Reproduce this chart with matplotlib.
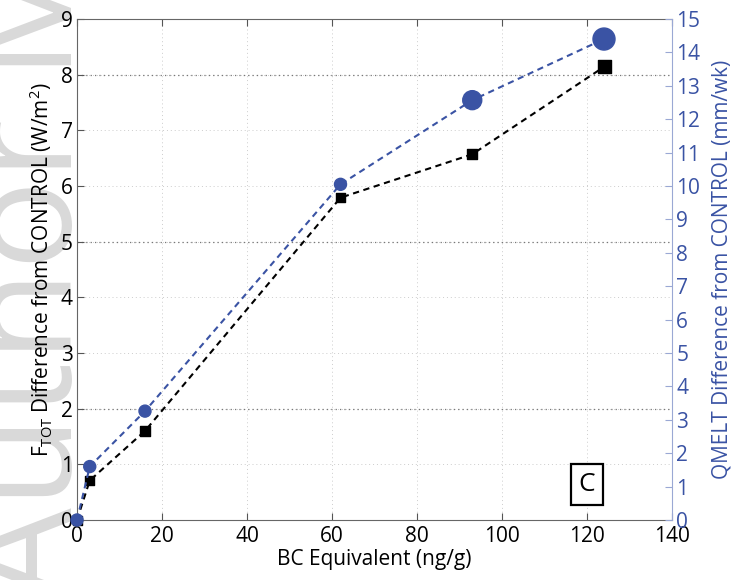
import matplotlib
matplotlib.use("Agg")
import matplotlib.pyplot as plt

# ---- data ----
bc_equiv = [0, 3, 16, 62, 93, 124]                      # ng/g
ftot_diff = [0.0, 0.71, 1.60, 5.79, 6.57, 8.14]         # W/m2 (left axis)
qmelt_diff = [0.0, 1.60, 3.26, 10.05, 12.57, 14.40]     # mm/wk (right axis)

x_ticks = [0, 20, 40, 60, 80, 100, 120, 140]
left_ticks = list(range(0, 10))
right_ticks = list(range(0, 16))

# ---- styles ----
blue = "#3A53A4"
font = "Open Sans"
plt.rcParams["font.family"] = [font, "DejaVu Sans"]
plt.rcParams["mathtext.fontset"] = "custom"
plt.rcParams["mathtext.rm"] = font
plt.rcParams["mathtext.it"] = font
plt.rcParams["mathtext.bf"] = font

sq_sizes = [9, 9, 10, 9, 10, 13]      # px side
circ_sizes = [12, 12, 12, 12, 19, 22]  # px diameter

fig = plt.figure(figsize=(7.49, 5.8), dpi=100)

# watermark (behind everything)
fig.text(72/749, -22/580, "Author Manuscript", rotation=90, fontsize=108,
         color="#d9d9d9", ha="left", va="baseline", rotation_mode="anchor",
         zorder=-5)

ax = fig.add_axes([77/749, 60/580, 595/749, 501/580])
ax.patch.set_alpha(0)
ax2 = ax.twinx()
ax2.patch.set_alpha(0)

ax.set_xlim(0, 140)
ax.set_ylim(0, 9)
ax2.set_ylim(0, 15)

# faint grid
for xv in x_ticks[1:-1]:
    ax.axvline(xv, color="#cccccc", lw=0.7, ls=(0, (1, 3)), zorder=0)
for yv in left_ticks[1:-1]:
    ax.axhline(yv, color="#cccccc", lw=0.7, ls=(0, (1, 3)), zorder=0)
for yv in [2, 5, 8]:
    ax.axhline(yv, color="#777777", lw=0.9, ls=(0, (1, 2.5)), zorder=0.5)

ax.plot(bc_equiv, ftot_diff, color="black", lw=1.5, ls=(0, (3, 2.2)), zorder=2)
ax.scatter(bc_equiv, ftot_diff, marker="s", s=[(d * 0.72) ** 2 for d in sq_sizes],
           color="black", zorder=3, clip_on=False)

ax2.plot(bc_equiv, qmelt_diff, color=blue, lw=1.5, ls=(0, (3, 2.2)), zorder=2)
ax2.scatter(bc_equiv, qmelt_diff, marker="o", s=[(d * 0.72) ** 2 for d in circ_sizes],
            color=blue, zorder=3, clip_on=False)

ax.set_xticks(x_ticks)
ax.set_yticks(left_ticks)
ax2.set_yticks(right_ticks)

ax.tick_params(axis="both", direction="in", labelsize=15, length=5,
               color="#555555", top=True, pad=3)
ax.tick_params(axis="x", pad=4)
ax2.tick_params(axis="y", direction="in", labelsize=15, length=5,
                colors=blue, pad=3)
ax2.tick_params(axis="y", color="#9aa8d4")

for s in ["left", "bottom", "top"]:
    ax.spines[s].set_color("#666666")
ax.spines["right"].set_visible(False)
for s in ["left", "bottom", "top"]:
    ax2.spines[s].set_visible(False)
ax2.spines["right"].set_color("#9aa8d4")

ax.set_xlabel("BC Equivalent (ng/g)", fontsize=15, labelpad=2)
ax.set_ylabel(r"F$_{\mathrm{TOT}}$ Difference from CONTROL (W/m$^2$)", fontsize=15, labelpad=4)
ax2.set_ylabel("QMELT Difference from CONTROL (mm/wk)", fontsize=15, color=blue, labelpad=8)

ax.text(120, 0.64, "C", fontsize=19, ha="center", va="center",
        bbox=dict(boxstyle="square,pad=0.3", fc="white", ec="black", lw=1.6), zorder=4)

fig.savefig("out.png", dpi=100)
